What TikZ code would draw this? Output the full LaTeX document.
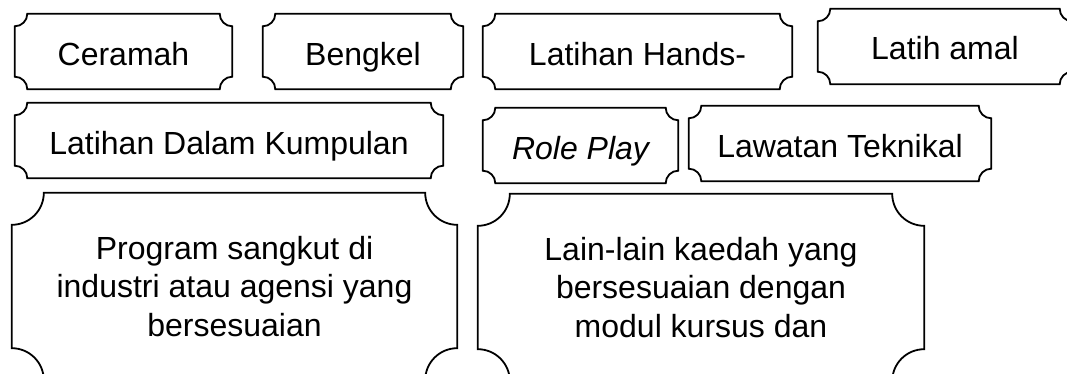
\documentclass[tikz,border=0pt]{standalone}
\usepackage{fontspec}
\setmainfont{Liberation Sans}
\usetikzlibrary{calc}
\tikzset{
  box/.style={inner sep=0pt, minimum height=75pt, font=\fontsize{32}{38.5}\selectfont, align=center},
  oneline/.style={box, text height=30pt, text depth=3pt},
  bigbox/.style={box, minimum height=187pt},
  plaqueline/.style={line width=1.8pt, line join=miter}
}
\newcommand\drawplaque[2]{%
  \draw[plaqueline] let \p1=(#1.north west), \p2=(#1.south east) in
    (\x1+#2pt,\y1) -- (\x2-#2pt,\y1) arc[start angle=180,end angle=270,radius=#2pt]
    -- (\x2,\y2+#2pt) arc[start angle=90,end angle=180,radius=#2pt]
    -- (\x1+#2pt,\y2) arc[start angle=0,end angle=90,radius=#2pt]
    -- (\x1,\y1-#2pt) arc[start angle=270,end angle=360,radius=#2pt] -- cycle;}
\begin{document}
\begin{tikzpicture}[x=1pt,y=1pt]
\useasboundingbox (0,0) rectangle (1067,373);
\clip (0,0) rectangle (1067,373);
\node[oneline, minimum width=217pt] (a) at (123.5,321.5) {Ceramah};
\node[oneline, minimum width=200pt] (b) at (363,321.5) {Bengkel};
\node[oneline, minimum width=309pt] (c) at (637.5,321.5) {Latihan Hands-};
\node[oneline, minimum width=254pt] (d) at (945,326.5) {Latih amal};
\node[oneline, minimum width=428pt] (e) at (229,232.5) {Latihan Dalam Kumpulan};
\node[oneline, minimum width=195pt] (f) at (580.5,227.5) {\itshape Role Play};
\node[oneline, minimum width=302pt] (g) at (840,229.5) {Lawatan Teknikal};
\node[bigbox, minimum width=445pt] (h) at (234.5,86.5) {Program sangkut di\\industri atau agensi yang\\bersesuaian};
\node[bigbox, minimum width=446pt] (i) at (701,85.5) {Lain-lain kaedah yang\\bersesuaian dengan\\modul kursus dan};
\drawplaque{a}{12.5}
\drawplaque{b}{12.5}
\drawplaque{c}{12.5}
\drawplaque{d}{12.5}
\drawplaque{e}{12.5}
\drawplaque{f}{12.5}
\drawplaque{g}{12.5}
\drawplaque{h}{32}
\drawplaque{i}{32}
\end{tikzpicture}
\end{document}
